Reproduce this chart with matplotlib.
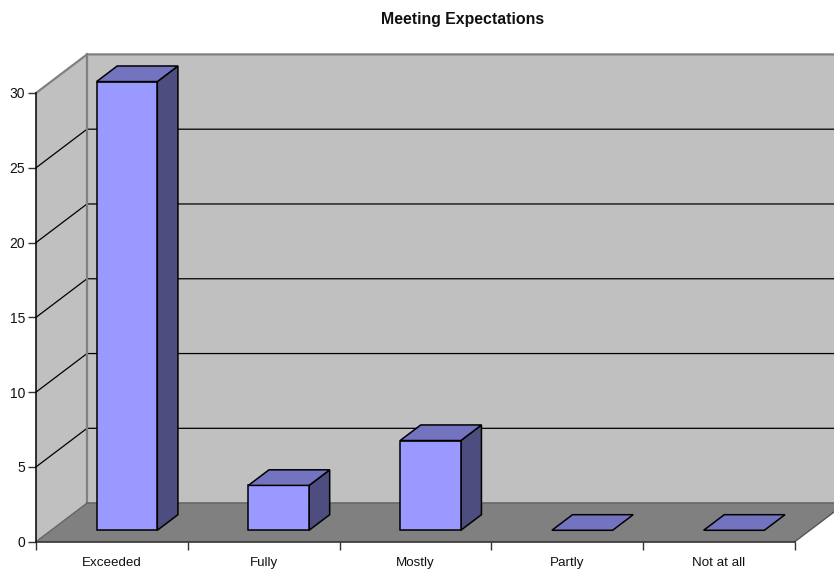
import matplotlib
matplotlib.use("Agg")
import matplotlib.pyplot as plt
from matplotlib.patches import Polygon

plt.rcParams['font.family'] = ['Liberation Sans', 'DejaVu Sans']

categories = ["Exceeded", "Fully", "Mostly", "Partly", "Not at all"]
values = [30, 3, 6, 0, 0]
value_ticks = [0, 5, 10, 15, 20, 25, 30]

# 3D look: how far the back of the box is shifted, in data units
DEPTH_X = 0.336
DEPTH_Y = 2.58
BAR_WIDTH = 0.4
BAR_NEAR = 0.296
BAR_FAR = 0.70

WALL = '#C0C0C0'
FLOOR = '#808080'
EDGE = '#808080'
BAR_FRONT = '#9999FF'
BAR_TOP = '#7373BF'
BAR_SIDE = '#4D4D7F'


def proj(x, y, d):
    return (x + d * DEPTH_X, y + d * DEPTH_Y)


def face(ax, pts, color, edge='none', lw=1.0, z=2):
    p = Polygon(pts, closed=True, facecolor=color, edgecolor=edge, linewidth=lw,
                zorder=z, clip_on=False, joinstyle='miter')
    ax.add_patch(p)


W, H = 834, 569
fig = plt.figure(figsize=(W / 100, H / 100), dpi=100)
ax = fig.add_axes([36 / W, 1 - 541.7 / H, (794.8 - 36) / W, (541.7 - 93) / H])
ax.patch.set_visible(False)
ax.set_xlim(0, len(categories))
ax.set_ylim(0, 30)

top = value_ticks[-1]
right = len(categories)

# walls and floor
face(ax, [proj(0, 0, 1), proj(right, 0, 1), proj(right, top, 1), proj(0, top, 1)], WALL, z=1)
face(ax, [proj(0, 0, 0), proj(0, 0, 1), proj(0, top, 1), proj(0, top, 0)], WALL, z=1)
face(ax, [proj(0, 0, 0), proj(right, 0, 0), proj(right, 0, 1), proj(0, 0, 1)], FLOOR, z=1)

# gridlines run along the left wall and then the back wall
for v in value_ticks[1:-1]:
    pts = [proj(0, v, 0), proj(0, v, 1), proj(right, v, 1)]
    ax.plot(*zip(*pts), color='black', lw=0.9, zorder=1.5, clip_on=False)

# wall outlines
outline = [proj(0, top, 0), proj(0, top, 1), proj(right, top, 1)]
ax.plot(*zip(*outline), color=EDGE, lw=1.6, zorder=1.6, clip_on=False)
ax.plot(*zip(proj(0, 0, 1), proj(0, top, 1)), color=EDGE, lw=1.6, zorder=1.6, clip_on=False)
ax.plot(*zip(proj(0, 0, 1), proj(right, 0, 1)), color='#666666', lw=1.2, zorder=1.6, clip_on=False)
ax.plot(*zip(proj(0, 0, 0), proj(0, 0, 1)), color='#666666', lw=1.0, zorder=1.6, clip_on=False)
ax.plot(*zip(proj(right, 0, 0), proj(right, 0, 1)), color='#555555', lw=1.0, zorder=1.6, clip_on=False)

# bars
for i, val in enumerate(values):
    x0 = i + 0.5 - BAR_WIDTH / 2
    x1 = i + 0.5 + BAR_WIDTH / 2
    if val > 0:
        face(ax, [proj(x1, 0, BAR_NEAR), proj(x1, 0, BAR_FAR), proj(x1, val, BAR_FAR), proj(x1, val, BAR_NEAR)],
             BAR_SIDE, edge='black', lw=1.1, z=3)
        face(ax, [proj(x0, 0, BAR_NEAR), proj(x1, 0, BAR_NEAR), proj(x1, val, BAR_NEAR), proj(x0, val, BAR_NEAR)],
             BAR_FRONT, edge='black', lw=1.1, z=3)
    face(ax, [proj(x0, val, BAR_NEAR), proj(x1, val, BAR_NEAR), proj(x1, val, BAR_FAR), proj(x0, val, BAR_FAR)],
         BAR_TOP, edge='black', lw=1.1, z=3)

# axes
for s in ['top', 'right']:
    ax.spines[s].set_visible(False)
for s in ['left', 'bottom']:
    ax.spines[s].set_linewidth(1.1)
    ax.spines[s].set_zorder(2.5)
ax.spines['bottom'].set_color('#222222')
ax.set_yticks(value_ticks)
ax.set_xticks(range(len(categories) + 1))
ax.set_xticklabels([])
ax.set_xticks([i + 0.5 for i in range(len(categories))], minor=True)
ax.set_xticklabels(categories, minor=True)
ax.tick_params(axis='x', which='major', length=5.5, width=1.0, color='#333333')
ax.tick_params(axis='x', which='minor', length=0, labelsize=9.6, pad=11, labelcolor='#111111')
ax.tick_params(axis='y', length=6, width=1.0, color='#333333', labelsize=10, pad=1.7, labelcolor='#111111')

fig.text(463 / W, 1 - 19.5 / H, "Meeting Expectations", ha='center', va='center',
         fontsize=11.4, fontweight='bold', color='#111111')

fig.savefig("out.png", dpi=100)
